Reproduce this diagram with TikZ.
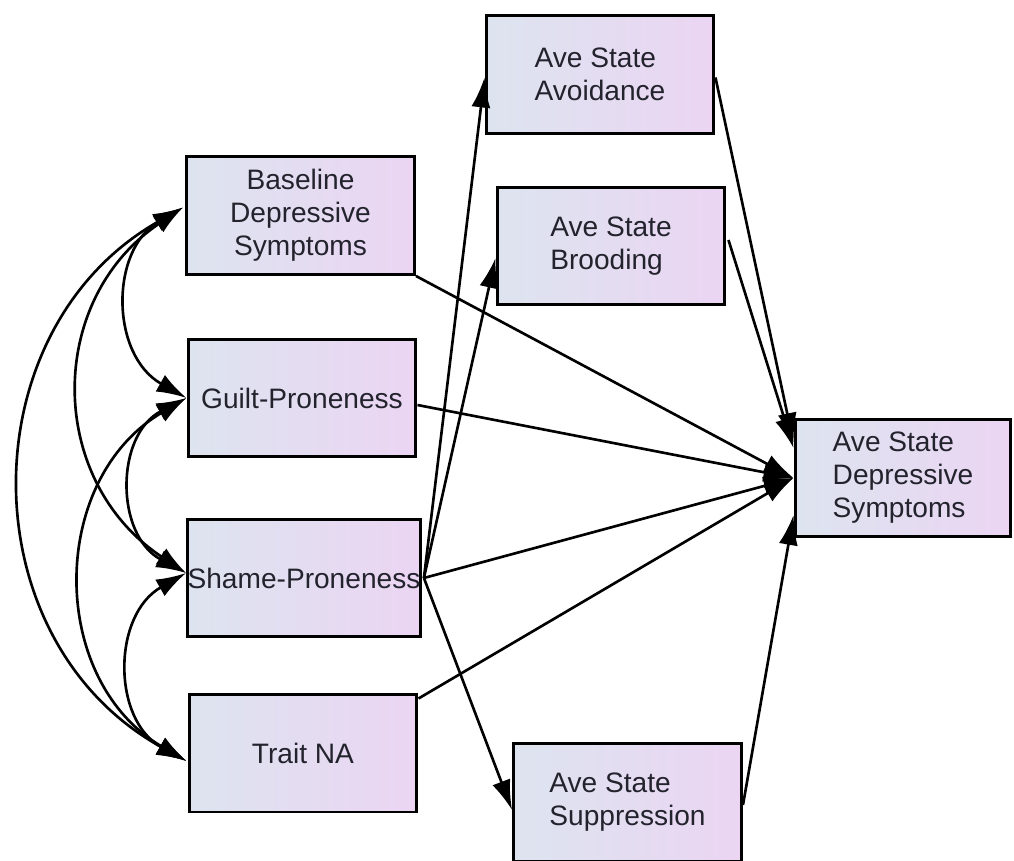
\documentclass[tikz,border=0pt]{standalone}
\usepackage{fontspec}
\setmainfont{Liberation Sans}
\usetikzlibrary{arrows.meta,calc}
\definecolor{boxleft}{RGB}{221,228,239}
\definecolor{boxright}{RGB}{235,213,243}
\definecolor{inktext}{RGB}{35,35,45}
\tikzset{
  var/.style={draw=black, line width=1.7pt, left color=boxleft, right color=boxright,
    minimum width=4.56cm, minimum height=2.36cm, inner sep=0pt, text=inktext,
    font=\fontsize{16}{18.8}\selectfont},
  head/.tip={Latex[length=0.6cm,width=0.38cm]},
  path/.style={line width=1.5pt, -head},
  cov/.style={line width=1.5pt, head-head}
}
\begin{document}
\begin{tikzpicture}[x=0.02cm, y=-0.02cm]
\useasboundingbox (0,0) rectangle (1014,861);
\clip (0,0) rectangle (1014,861);
\fill[white] (0,0) rectangle (1014,861);

% exogenous variables
\node[var, align=center] (base)  at (300.5,215.5) {Baseline\\Depressive\\Symptoms};
\node[var, align=center] (guilt) at (302,398) {Guilt-Proneness};
\node[var, align=center] (shame) at (304,578) {Shame-Proneness};
\node[var, align=center] (trait) at (303,753) {Trait NA};

% mediators
\node[var, align=left] (avoid) at (600,74.5) {Ave State\\Avoidance};
\node[var, align=left] (brood) at (611,246) {Ave State\\Brooding};
\node[var, align=left] (supp)  at (627.5,802) {Ave State\\Suppression};

% outcome
\node[var, align=left, minimum width=4.32cm] (dep) at (903,478) {Ave State\\Depressive\\Symptoms};

% attachment points
\coordinate (bL) at ($(base.west)+(-2,-8)$);
\coordinate (gL) at (guilt.west);
\coordinate (sL) at ($(shame.west)+(0,-5)$);
\coordinate (tL) at ($(trait.west)+(-1,8)$);

% covariances among exogenous variables
\draw[cov] (bL) .. controls (110,250) and (110,355) .. (gL);
\draw[cov] (gL) .. controls (115,435) and (115,535) .. (sL);
\draw[cov] (sL) .. controls (112,615) and (112,720) .. (tL);
\draw[cov] (bL) .. controls (46,300) and (46,480) .. (sL);
\draw[cov] (gL) .. controls (48,480) and (48,680) .. (tL);
\draw[cov] (bL) .. controls (-32,330) and (-32,640) .. (tL);

% shame-proneness to the mediators
\draw[path] ($(shame.east)+(2,0)$) -- ($(avoid.west)+(0,3)$);
\draw[path] ($(shame.east)+(2,0)$) -- ($(brood.west)+(0,12)$);
\draw[path] ($(shame.east)+(2,0)$) -- ($(supp.west)+(0,8)$);

% direct paths to the outcome
\draw[path] (base.south east) -- (dep.west);
\draw[path] ($(guilt.east)+(0,7)$) -- (dep.west);
\draw[path] ($(shame.east)+(2,0)$) -- (dep.west);
\draw[path] ($(trait.north east)+(0,6)$) -- (dep.west);
\draw[path] ($(avoid.east)+(0,3)$) -- ($(dep.west)+(0,-35)$);
\draw[path] ($(brood.east)+(2,-6)$) -- ($(dep.west)+(0,-30)$);
\draw[path] ($(supp.east)+(0,3)$) -- ($(dep.west)+(0,37)$);
\end{tikzpicture}
\end{document}
